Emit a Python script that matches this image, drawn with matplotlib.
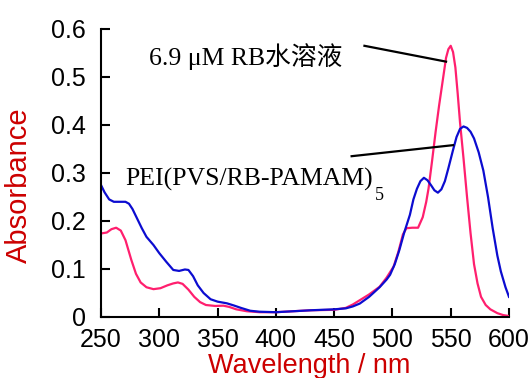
import matplotlib
matplotlib.use("Agg")
import matplotlib.pyplot as plt

# absorbance spectra
rb_wl = [250, 255, 259, 263, 267, 271, 276, 280, 284, 289, 295, 301, 307, 312, 316, 320,
         325, 330, 335, 340, 348, 355, 360, 366, 375, 386, 400, 415, 430, 450, 460, 466,
         472, 480, 489, 495, 501, 505, 509, 512, 517, 522, 526, 529, 531, 534, 537, 540,
         543, 546, 548, 550, 552, 554, 556, 558, 561, 564, 567, 570, 573, 576, 580, 584,
         590, 595, 600]
rb_abs = [0.174, 0.176, 0.183, 0.186, 0.180, 0.160, 0.119, 0.090, 0.072, 0.062, 0.058,
          0.060, 0.066, 0.070, 0.072, 0.069, 0.057, 0.042, 0.031, 0.025, 0.023, 0.0236,
          0.021, 0.016, 0.012, 0.010, 0.010, 0.012, 0.014, 0.015, 0.019, 0.026, 0.035,
          0.047, 0.063, 0.082, 0.105, 0.135, 0.172, 0.185, 0.186, 0.186, 0.208, 0.240,
          0.268, 0.325, 0.385, 0.440, 0.490, 0.540, 0.558, 0.565, 0.552, 0.520, 0.465,
          0.405, 0.330, 0.250, 0.175, 0.110, 0.070, 0.042, 0.025, 0.016, 0.008, 0.004,
          0.002]

film_wl = [250, 253, 257, 261, 266, 271, 274, 277, 281, 285, 289, 295, 300, 306, 312, 317,
           322, 325, 329, 333, 338, 344, 350, 358, 364, 370, 378, 386, 400, 415, 430, 450,
           460, 466, 472, 480, 489, 495, 498, 502, 506, 510, 515, 518, 521, 524, 527, 530,
           533, 536, 539, 542, 545, 548, 552, 555, 558, 561, 564, 567, 570, 574, 578, 582,
           586, 590, 593, 597, 600]
film_abs = [0.275, 0.260, 0.245, 0.240, 0.240, 0.240, 0.236, 0.225, 0.205, 0.185, 0.167,
            0.150, 0.133, 0.115, 0.098, 0.096, 0.099, 0.098, 0.085, 0.066, 0.050, 0.037,
            0.032, 0.0285, 0.024, 0.019, 0.013, 0.011, 0.010, 0.012, 0.014, 0.016, 0.018,
            0.022, 0.028, 0.042, 0.062, 0.078, 0.088, 0.110, 0.140, 0.175, 0.213, 0.245,
            0.267, 0.283, 0.290, 0.285, 0.275, 0.264, 0.259, 0.266, 0.283, 0.310, 0.348,
            0.375, 0.392, 0.397, 0.394, 0.386, 0.372, 0.343, 0.305, 0.250, 0.185, 0.128,
            0.095, 0.062, 0.042]

x_ticks = [250, 300, 350, 400, 450, 500, 550, 600]
y_ticks = [0, 0.1, 0.2, 0.3, 0.4, 0.5, 0.6]
y_labels = ["0", "0.1", "0.2", "0.3", "0.4", "0.5", "0.6"]

rb_label = "6.9 \u03bcM RB水溶液"
film_label = "PEI(PVS/RB-PAMAM)"
film_sub = "5"

plt.rcParams["font.family"] = ["Liberation Sans", "DejaVu Sans"]

fig = plt.figure(figsize=(5.32, 3.78), dpi=100)
ax = fig.add_axes([101 / 532, 1 - 317 / 378, 408 / 532, 288 / 378])

ax.plot(rb_wl, rb_abs, color="#ff1f6e", lw=1.6)
ax.plot(film_wl, film_abs, color="#0c0cd0", lw=1.6)

# pointer lines from the labels to the curves
ax.plot([476, 546], [0.565, 0.532], color="black", lw=1.6)
ax.plot([465, 552], [0.335, 0.358], color="black", lw=1.6)

serif = ["Liberation Serif", "Noto Sans CJK SC"]
ax.text(291, 0.525, rb_label, fontsize=18.5, family=serif, va="baseline", ha="left")
t2 = ax.text(270.5, 0.273, film_label, fontsize=18.5, family=serif,
             va="baseline", ha="left")
ax.annotate(film_sub, xy=(1, 0), xycoords=t2, xytext=(1.5, -6),
            textcoords="offset points", fontsize=13, family=serif,
            va="baseline", ha="left")

ax.set_xlim(250, 600)
ax.set_ylim(0, 0.6)
ax.set_xticks(x_ticks)
ax.set_yticks(y_ticks)
ax.set_yticklabels(y_labels)
ax.tick_params(direction="in", length=6.5, width=1.5, labelsize=18)
ax.tick_params(axis="y", pad=11)
ax.tick_params(axis="x", pad=8)

for side in ["top", "right"]:
    ax.spines[side].set_visible(False)
for side in ["left", "bottom"]:
    ax.spines[side].set_linewidth(1.5)

ax.set_xlabel("Wavelength / nm", color="#cc0000", fontsize=19.5, va="top")
ax.xaxis.set_label_coords(0.51, -0.125)
ax.set_ylabel("Absorbance", color="#cc0000", fontsize=21, va="center")
ax.yaxis.set_label_coords(-0.2, 0.457)

fig.savefig("out.png", dpi=100)
